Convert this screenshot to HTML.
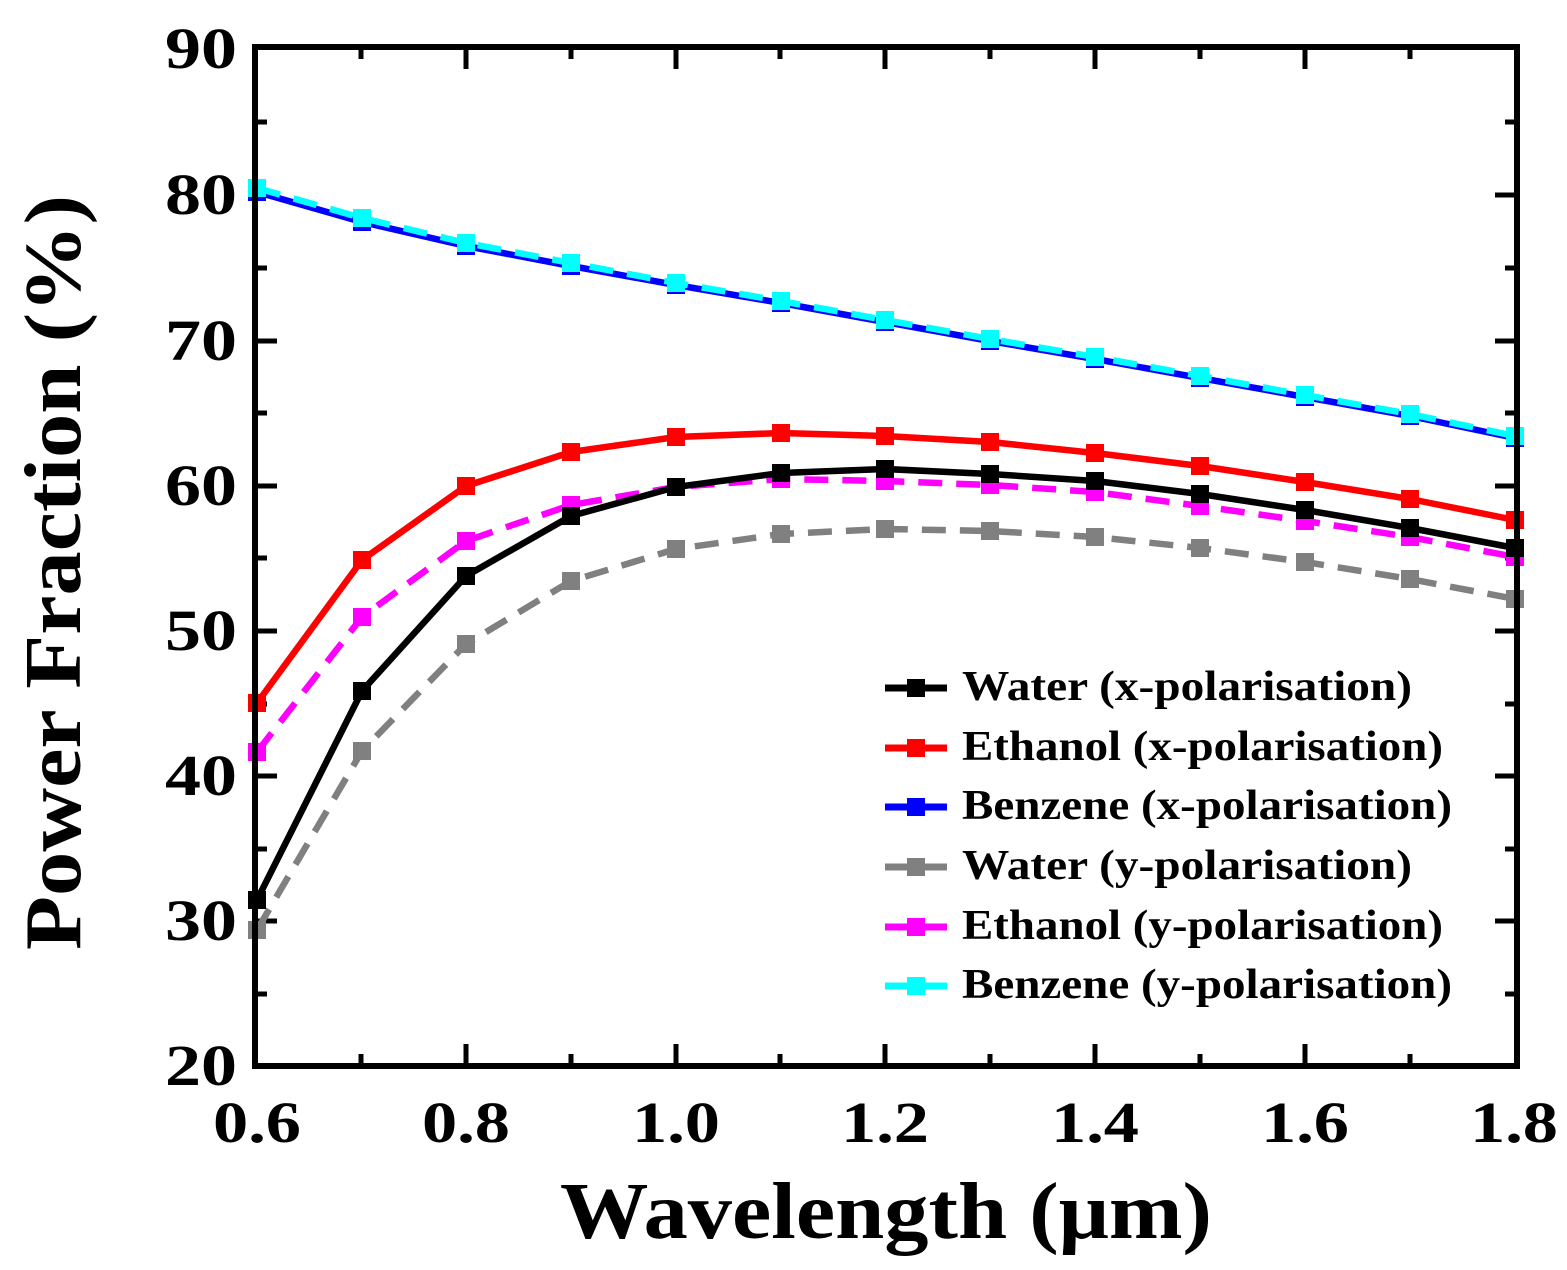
<!DOCTYPE html>
<html><head><meta charset="utf-8"><style>
html,body{margin:0;padding:0;background:#fff;}
svg{display:block;}
text{font-family:"Liberation Serif",serif;font-weight:bold;fill:#000;}
</style></head><body>
<svg width="1567" height="1270" viewBox="0 0 1567 1270" xmlns="http://www.w3.org/2000/svg">
<g id="ticks" stroke="#000" stroke-width="5">
<path d="M255 195h22M255 341h22M255 486h22M255 631h22M255 776h22M255 921h22
M1517 195h-22M1517 341h-22M1517 486h-22M1517 631h-22M1517 776h-22M1517 921h-22
M255 122h12M255 268h12M255 413h12M255 558h12M255 704h12M255 849h12M255 994h12
M1517 122h-12M1517 268h-12M1517 413h-12M1517 558h-12M1517 704h-12M1517 849h-12M1517 994h-12
M466 1066v-22M676 1066v-22M885 1066v-22M1095 1066v-22M1305 1066v-22
M466 47v22M676 47v22M885 47v22M1095 47v22M1305 47v22
M361 1066v-12M571 1066v-12M780 1066v-12M990 1066v-12M1200 1066v-12M1410 1066v-12
M361 47v12M571 47v12M780 47v12M990 47v12M1200 47v12M1410 47v12"/>
</g>
<g fill="none" stroke-width="6.5" stroke-linejoin="round">
<polyline stroke="#808080" stroke-dasharray="24,14" points="257,930 362,751 466,644 571,581 676,549 781,534 885,529 990,531 1095,537 1200,548 1305,562 1410,579 1515,599"/>
<polyline stroke="#ff00ff" stroke-dasharray="24,14" points="257,752 362,617 466,541 571,505 676,487 781,479 885,481 990,485 1095,492 1200,506 1305,521 1410,537 1515,557"/>
<polyline stroke="#000" points="257,900 362,691 466,576 571,516 676,487 781,473 885,469 990,474 1095,481 1200,494 1305,510 1410,528 1515,548"/>
<polyline stroke="#ff0000" points="257,703 362,560 466,486 571,452 676,437 781,433 885,436 990,442 1095,453 1200,466 1305,482 1410,499 1515,520"/>
<polyline stroke="#0000ff" points="257,192 362,222 466,246 571,266 676,285 781,303 885,322 990,341 1095,359 1200,378 1305,397 1410,416 1515,438"/>
<polyline stroke="#00ffff" stroke-dasharray="24,14" points="257,188 362,218 466,243 571,263 676,283 781,301 885,320 990,339 1095,357 1200,376 1305,395 1410,414 1515,436"/>
</g>
<g>
<g fill="#808080"><rect x="248" y="921" width="18" height="18"/><rect x="353" y="742" width="18" height="18"/><rect x="457" y="635" width="18" height="18"/><rect x="562" y="572" width="18" height="18"/><rect x="667" y="540" width="18" height="18"/><rect x="772" y="525" width="18" height="18"/><rect x="876" y="520" width="18" height="18"/><rect x="981" y="522" width="18" height="18"/><rect x="1086" y="528" width="18" height="18"/><rect x="1191" y="539" width="18" height="18"/><rect x="1296" y="553" width="18" height="18"/><rect x="1401" y="570" width="18" height="18"/><rect x="1506" y="590" width="18" height="18"/></g>
<g fill="#ff00ff"><rect x="248" y="743" width="18" height="18"/><rect x="353" y="608" width="18" height="18"/><rect x="457" y="532" width="18" height="18"/><rect x="562" y="496" width="18" height="18"/><rect x="667" y="478" width="18" height="18"/><rect x="772" y="470" width="18" height="18"/><rect x="876" y="472" width="18" height="18"/><rect x="981" y="476" width="18" height="18"/><rect x="1086" y="483" width="18" height="18"/><rect x="1191" y="497" width="18" height="18"/><rect x="1296" y="512" width="18" height="18"/><rect x="1401" y="528" width="18" height="18"/><rect x="1506" y="548" width="18" height="18"/></g>
<g fill="#000"><rect x="248" y="891" width="18" height="18"/><rect x="353" y="682" width="18" height="18"/><rect x="457" y="567" width="18" height="18"/><rect x="562" y="507" width="18" height="18"/><rect x="667" y="478" width="18" height="18"/><rect x="772" y="464" width="18" height="18"/><rect x="876" y="460" width="18" height="18"/><rect x="981" y="465" width="18" height="18"/><rect x="1086" y="472" width="18" height="18"/><rect x="1191" y="485" width="18" height="18"/><rect x="1296" y="501" width="18" height="18"/><rect x="1401" y="519" width="18" height="18"/><rect x="1506" y="539" width="18" height="18"/></g>
<g fill="#ff0000"><rect x="248" y="694" width="18" height="18"/><rect x="353" y="551" width="18" height="18"/><rect x="457" y="477" width="18" height="18"/><rect x="562" y="443" width="18" height="18"/><rect x="667" y="428" width="18" height="18"/><rect x="772" y="424" width="18" height="18"/><rect x="876" y="427" width="18" height="18"/><rect x="981" y="433" width="18" height="18"/><rect x="1086" y="444" width="18" height="18"/><rect x="1191" y="457" width="18" height="18"/><rect x="1296" y="473" width="18" height="18"/><rect x="1401" y="490" width="18" height="18"/><rect x="1506" y="511" width="18" height="18"/></g>
<g fill="#0000ff"><rect x="248" y="183" width="18" height="18"/><rect x="353" y="213" width="18" height="18"/><rect x="457" y="237" width="18" height="18"/><rect x="562" y="257" width="18" height="18"/><rect x="667" y="276" width="18" height="18"/><rect x="772" y="294" width="18" height="18"/><rect x="876" y="313" width="18" height="18"/><rect x="981" y="332" width="18" height="18"/><rect x="1086" y="350" width="18" height="18"/><rect x="1191" y="369" width="18" height="18"/><rect x="1296" y="388" width="18" height="18"/><rect x="1401" y="407" width="18" height="18"/><rect x="1506" y="429" width="18" height="18"/></g>
<g fill="#00ffff"><rect x="248" y="179" width="18" height="18"/><rect x="353" y="209" width="18" height="18"/><rect x="457" y="234" width="18" height="18"/><rect x="562" y="254" width="18" height="18"/><rect x="667" y="274" width="18" height="18"/><rect x="772" y="292" width="18" height="18"/><rect x="876" y="311" width="18" height="18"/><rect x="981" y="330" width="18" height="18"/><rect x="1086" y="348" width="18" height="18"/><rect x="1191" y="367" width="18" height="18"/><rect x="1296" y="386" width="18" height="18"/><rect x="1401" y="405" width="18" height="18"/><rect x="1506" y="427" width="18" height="18"/></g>
</g>
<rect x="255" y="47" width="1262" height="1019" fill="none" stroke="#000" stroke-width="6"/>
<g stroke-width="7">
<line x1="885" y1="688" x2="947" y2="688" stroke="#000"/><rect x="907" y="679" width="18" height="18" fill="#000"/>
<line x1="885" y1="748" x2="947" y2="748" stroke="#ff0000"/><rect x="907" y="739" width="18" height="18" fill="#ff0000"/>
<line x1="885" y1="807" x2="947" y2="807" stroke="#0000ff"/><rect x="907" y="798" width="18" height="18" fill="#0000ff"/>
<line x1="885" y1="867" x2="947" y2="867" stroke="#808080"/><rect x="907" y="858" width="18" height="18" fill="#808080"/>
<line x1="885" y1="927" x2="947" y2="927" stroke="#ff00ff"/><rect x="907" y="918" width="18" height="18" fill="#ff00ff"/>
<line x1="885" y1="986" x2="947" y2="986" stroke="#00ffff"/><rect x="907" y="977" width="18" height="18" fill="#00ffff"/>
</g>
<g font-size="42" lengthAdjust="spacingAndGlyphs">
<text x="962" y="700" textLength="450" lengthAdjust="spacingAndGlyphs">Water (x-polarisation)</text>
<text x="962" y="760" textLength="481" lengthAdjust="spacingAndGlyphs">Ethanol (x-polarisation)</text>
<text x="962" y="819" textLength="490" lengthAdjust="spacingAndGlyphs">Benzene (x-polarisation)</text>
<text x="962" y="879" textLength="450" lengthAdjust="spacingAndGlyphs">Water (y-polarisation)</text>
<text x="962" y="939" textLength="481" lengthAdjust="spacingAndGlyphs">Ethanol (y-polarisation)</text>
<text x="962" y="998" textLength="490" lengthAdjust="spacingAndGlyphs">Benzene (y-polarisation)</text>
</g>
<g font-size="58">
<text x="165" y="68" textLength="72" lengthAdjust="spacingAndGlyphs">90</text>
<text x="165" y="214" textLength="72" lengthAdjust="spacingAndGlyphs">80</text>
<text x="165" y="360" textLength="72" lengthAdjust="spacingAndGlyphs">70</text>
<text x="165" y="505" textLength="72" lengthAdjust="spacingAndGlyphs">60</text>
<text x="165" y="650" textLength="72" lengthAdjust="spacingAndGlyphs">50</text>
<text x="165" y="795" textLength="72" lengthAdjust="spacingAndGlyphs">40</text>
<text x="165" y="940" textLength="72" lengthAdjust="spacingAndGlyphs">30</text>
<text x="165" y="1085" textLength="72" lengthAdjust="spacingAndGlyphs">20</text>
</g>
<g font-size="58">
<text x="213" y="1142" textLength="88" lengthAdjust="spacingAndGlyphs">0.6</text>
<text x="422" y="1142" textLength="88" lengthAdjust="spacingAndGlyphs">0.8</text>
<text x="632" y="1142" textLength="88" lengthAdjust="spacingAndGlyphs">1.0</text>
<text x="841" y="1142" textLength="88" lengthAdjust="spacingAndGlyphs">1.2</text>
<text x="1051" y="1142" textLength="88" lengthAdjust="spacingAndGlyphs">1.4</text>
<text x="1261" y="1142" textLength="88" lengthAdjust="spacingAndGlyphs">1.6</text>
<text x="1470" y="1142" textLength="88" lengthAdjust="spacingAndGlyphs">1.8</text>
</g>
<text x="560" y="1238" font-size="80" textLength="652" lengthAdjust="spacingAndGlyphs">Wavelength (μm)</text>
<text transform="translate(80,950) rotate(-90)" font-size="80" textLength="755" lengthAdjust="spacingAndGlyphs">Power Fraction (%)</text>
</svg>
</body></html>
